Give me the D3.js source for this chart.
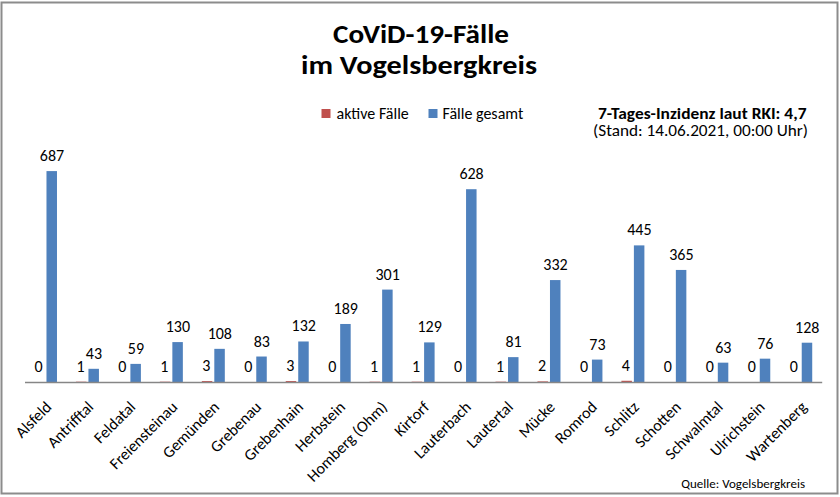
<!DOCTYPE html>
<html>
<head>
<meta charset="utf-8">
<script src="https://cdn.jsdelivr.net/npm/d3@7"></script>
<style>
  html, body { margin: 0; padding: 0; background: #fff; }
  svg text { font-family: Carlito, "Open Sans", sans-serif; fill: #000; }
</style>
</head>
<body>
<div id="chart"></div>
<script>
var gemeinden = ["Alsfeld", "Antrifftal", "Feldatal", "Freiensteinau", "Gemünden", "Grebenau",
  "Grebenhain", "Herbstein", "Homberg (Ohm)", "Kirtorf", "Lauterbach", "Lautertal", "Mücke",
  "Romrod", "Schlitz", "Schotten", "Schwalmtal", "Ulrichstein", "Wartenberg"];
var aktiveFaelle = [0, 1, 0, 1, 3, 0, 3, 0, 1, 1, 0, 1, 2, 0, 4, 0, 0, 0, 0];
var faelleGesamt = [687, 43, 59, 130, 108, 83, 132, 189, 301, 129, 628, 81, 332, 73, 445, 365, 63, 76, 128];
var legendLabels = ["aktive Fälle", "Fälle gesamt"];

var width = 840, height = 497;
var red = "#c0504d", blue = "#4f81bd";

var svg = d3.select("#chart").append("svg")
  .attr("width", width)
  .attr("height", height);

svg.append("rect")
  .attr("x", 1.5).attr("y", 2.5)
  .attr("width", 836).attr("height", 491)
  .attr("fill", "#fff")
  .attr("stroke", "#8c8c8c")
  .attr("stroke-width", 2);

var x = d3.scaleBand().domain(gemeinden).range([24.5, 821.7]).padding(0);
var y = d3.scaleLinear().domain([0, 800]).range([382, 136.4]);

var data = gemeinden.map(function(g, i) {
  return {name: g, aktiv: aktiveFaelle[i], gesamt: faelleGesamt[i]};
});
var mid = function(d) { return x(d.name) + x.bandwidth() / 2; };

// titles (the original is a bit stretched sideways, hence textLength)
svg.append("text").attr("x", 333).attr("y", 43)
  .attr("font-weight", "bold").attr("font-size", 26)
  .attr("textLength", 176).attr("lengthAdjust", "spacingAndGlyphs")
  .text("CoViD-19-Fälle");
svg.append("text").attr("x", 301).attr("y", 74)
  .attr("font-weight", "bold").attr("font-size", 26)
  .attr("textLength", 236).attr("lengthAdjust", "spacingAndGlyphs")
  .text("im Vogelsbergkreis");

// legend
var legend = svg.append("g");
[[321.5, red, 336.5], [428.5, blue, 442.5]].forEach(function(l, i) {
  legend.append("rect").attr("x", l[0]).attr("y", 109).attr("width", 9).attr("height", 9).attr("fill", l[1]);
  legend.append("text").attr("x", l[2]).attr("y", 118.5).attr("font-size", 16).text(legendLabels[i]);
});

svg.append("text").attr("x", 598).attr("y", 118.5)
  .attr("font-weight", "bold").attr("font-size", 15.5)
  .attr("textLength", 208.5).attr("lengthAdjust", "spacingAndGlyphs")
  .text("7-Tages-Inzidenz laut RKI: 4,7");
svg.append("text").attr("x", 593).attr("y", 136)
  .attr("font-size", 15.5)
  .attr("textLength", 215).attr("lengthAdjust", "spacingAndGlyphs")
  .text("(Stand: 14.06.2021, 00:00 Uhr)");

// bars
var g = svg.append("g");
g.selectAll("rect.aktiv").data(data).enter().append("rect")
  .attr("class", "aktiv")
  .attr("x", function(d) { return mid(d) - 11.5; })
  .attr("y", function(d) { return y(d.aktiv); })
  .attr("width", 10.5)
  .attr("height", function(d) { return y(0) - y(d.aktiv); })
  .attr("fill", red);

g.selectAll("rect.gesamt").data(data).enter().append("rect")
  .attr("class", "gesamt")
  .attr("x", function(d) { return mid(d) + 1; })
  .attr("y", function(d) { return y(d.gesamt); })
  .attr("width", 10.5)
  .attr("height", function(d) { return y(0) - y(d.gesamt); })
  .attr("fill", blue);

g.selectAll("text.aktiv").data(data).enter().append("text")
  .attr("class", "aktiv")
  .attr("x", function(d) { return mid(d) - 7; })
  .attr("y", function(d) { return y(d.aktiv) - 10; })
  .attr("text-anchor", "middle").attr("font-size", 16)
  .text(function(d) { return d.aktiv; });

g.selectAll("text.gesamt").data(data).enter().append("text")
  .attr("class", "gesamt")
  .attr("x", function(d) { return mid(d) + 6.5; })
  .attr("y", function(d) { return y(d.gesamt) - 10; })
  .attr("text-anchor", "middle").attr("font-size", 16)
  .text(function(d) { return d.gesamt; });

// x axis
var xAxis = svg.append("g").attr("transform", "translate(0," + y(0) + ")")
  .call(d3.axisBottom(x).tickSize(0).tickPadding(0));
xAxis.select(".domain").attr("stroke", "#868686").attr("stroke-width", 1.5);
xAxis.selectAll("text")
  .attr("font-size", 16)
  .attr("fill", "#000")
  .attr("text-anchor", "end")
  .attr("dy", null)
  .attr("y", null)
  .attr("transform", "translate(7,26) rotate(-45)");

svg.append("text").attr("x", 805).attr("y", 488)
  .attr("text-anchor", "end").attr("font-size", 13)
  .text("Quelle: Vogelsbergkreis");
</script>
</body>
</html>
